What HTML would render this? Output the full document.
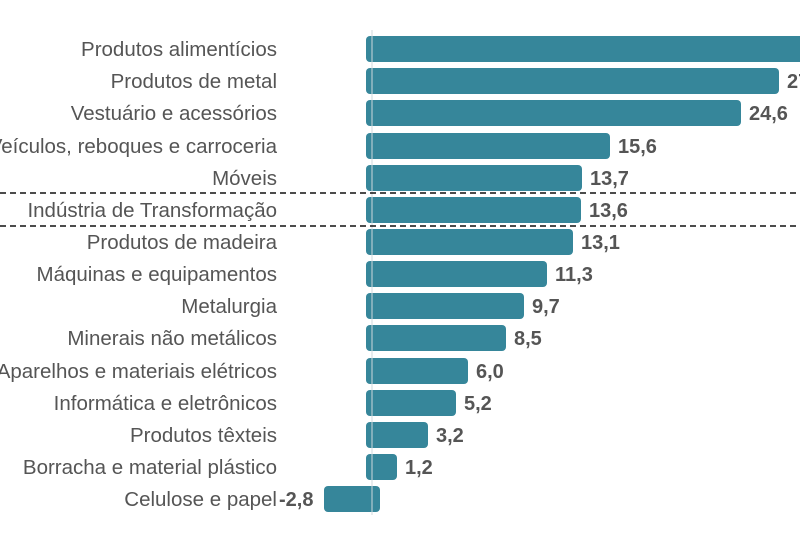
<!DOCTYPE html>
<html><head><meta charset="utf-8"><style>
html,body{margin:0;padding:0;background:#fff;}
svg{display:block;}
.l{font-family:"Liberation Sans",sans-serif;font-size:20.5px;fill:#555;text-anchor:end;}
.v{font-family:"Liberation Sans",sans-serif;font-size:20px;font-weight:bold;fill:#555;}
</style></head><body>
<svg width="800" height="533" viewBox="0 0 800 533" xmlns="http://www.w3.org/2000/svg">
<g fill="#36869a">
<rect x="366" y="36" width="460" height="26" rx="4"/>
<rect x="366" y="68" width="413" height="26" rx="4"/>
<rect x="366" y="100" width="375" height="26" rx="4"/>
<rect x="366" y="133" width="244" height="26" rx="4"/>
<rect x="366" y="165" width="216" height="26" rx="4"/>
<rect x="366" y="197" width="215" height="26" rx="4"/>
<rect x="366" y="229" width="207" height="26" rx="4"/>
<rect x="366" y="261" width="181" height="26" rx="4"/>
<rect x="366" y="293" width="158" height="26" rx="4"/>
<rect x="366" y="325" width="140" height="26" rx="4"/>
<rect x="366" y="358" width="102" height="26" rx="4"/>
<rect x="366" y="390" width="90" height="26" rx="4"/>
<rect x="366" y="422" width="62" height="26" rx="4"/>
<rect x="366" y="454" width="31" height="26" rx="4"/>
<rect x="324" y="486" width="56" height="26" rx="4"/>
</g>
<line x1="372" y1="30" x2="372" y2="515" stroke="#cfd8dc" stroke-width="1"/>
<line x1="0" y1="193" x2="800" y2="193" stroke="#111" stroke-width="1.4" stroke-dasharray="6,4"/>
<line x1="0" y1="226" x2="800" y2="226" stroke="#111" stroke-width="1.4" stroke-dasharray="6,4"/>
<g class="l">
<text x="277" y="56">Produtos alimentícios</text>
<text x="277" y="88">Produtos de metal</text>
<text x="277" y="120">Vestuário e acessórios</text>
<text x="277" y="153">Veículos, reboques e carroceria</text>
<text x="277" y="185">Móveis</text>
<text x="277" y="217">Indústria de Transformação</text>
<text x="277" y="249">Produtos de madeira</text>
<text x="277" y="281">Máquinas e equipamentos</text>
<text x="277" y="313">Metalurgia</text>
<text x="277" y="345">Minerais não metálicos</text>
<text x="277" y="378">Aparelhos e materiais elétricos</text>
<text x="277" y="410">Informática e eletrônicos</text>
<text x="277" y="442">Produtos têxteis</text>
<text x="277" y="474">Borracha e material plástico</text>
<text x="277" y="506">Celulose e papel</text>
</g>
<g class="v">
<text x="787" y="88">27,2</text>
<text x="749" y="120">24,6</text>
<text x="618" y="153">15,6</text>
<text x="590" y="185">13,7</text>
<text x="589" y="217">13,6</text>
<text x="581" y="249">13,1</text>
<text x="555" y="281">11,3</text>
<text x="532" y="313">9,7</text>
<text x="514" y="345">8,5</text>
<text x="476" y="378">6,0</text>
<text x="464" y="410">5,2</text>
<text x="436" y="442">3,2</text>
<text x="405" y="474">1,2</text>
<text x="279" y="506">-2,8</text>
</g>
</svg>
</body></html>
